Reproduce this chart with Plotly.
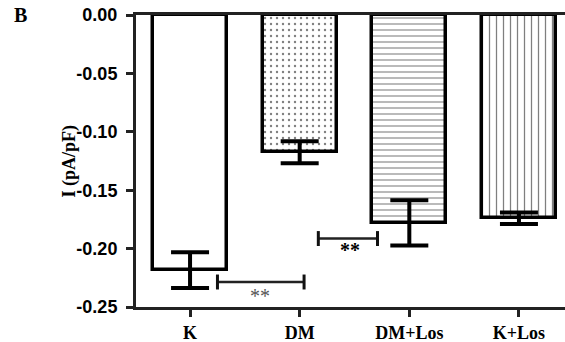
import plotly.graph_objects as go

categories = ["K", "DM", "DM+Los", "K+Los"]
means = [-0.2185, -0.1175, -0.178, -0.174]
errors = [0.0153, 0.0095, 0.0193, 0.005]
patterns = ["", ".", "-", "|"]
y_tickvals = [0.0, -0.05, -0.10, -0.15, -0.20, -0.25]
y_ticktext = ["0.00", "-0.05", "-0.10", "-0.15", "-0.20", "-0.25"]

# significance brackets: (x0, x1, y, label, label_x, label_y, color, bold)
brackets = [
    (0.25, 1.04, -0.2286, "**", 0.64, -0.2405, "#555555", False),
    (1.17, 1.71, -0.1914, "**", 1.46, -0.2010, "#000000", True),
]

fig = go.Figure()
for cat, m, e, p in zip(categories, means, errors, patterns):
    fig.add_trace(go.Bar(
        x=[cat], y=[m], width=0.675,
        marker=dict(
            color="white",
            line=dict(color="black", width=3.5),
            pattern=dict(shape=p, size=6 if p != "|" else 7,
                         solidity=0.12 if p == "." else 0.18,
                         fgcolor="black", bgcolor="white", fillmode="overlay"),
        ),
        error_y=dict(type="data", array=[e], symmetric=True,
                     color="black", thickness=4, width=19),
        showlegend=False,
    ))

tick_h = 0.0064
for x0, x1, y, lab, lx, ly, col, bold in brackets:
    fig.add_shape(type="line", xref="x", yref="y", x0=x0, x1=x1, y0=y, y1=y,
                  line=dict(color="#222222", width=2.5))
    for xx in (x0, x1):
        fig.add_shape(type="line", xref="x", yref="y", x0=xx, x1=xx,
                      y0=y - tick_h, y1=y + tick_h,
                      line=dict(color="#111111", width=3))
    fig.add_annotation(x=lx, y=ly, xref="x", yref="y", text=lab, showarrow=False,
                       font=dict(family="Liberation Serif", size=20, color=col,
                                 weight="bold" if bold else "normal"))

fig.add_annotation(x=(56 - 136) / 429, y=0.5, xref="paper", yref="paper",
                   text="<b>I (pA/pF)</b>", textangle=-90, showarrow=False,
                   font=dict(family="Liberation Serif", size=18, color="black"))
fig.add_annotation(x=(12 - 136) / 429, y=(342 - 35 - 15) / 292, xref="paper",
                   yref="paper", text="<b>B</b>", showarrow=False,
                   xanchor="left", yanchor="middle",
                   font=dict(family="Liberation Serif", size=20, color="black"))

fig.update_layout(
    width=565, height=342,
    margin=dict(l=136, r=0, t=15, b=35),
    plot_bgcolor="white", paper_bgcolor="white",
    bargap=0,
    xaxis=dict(
        type="category", range=[-0.493, 3.42],
        tickvals=categories,
        ticktext=["<b>" + c + "</b>" for c in categories],
        showline=True, linecolor="#222222", linewidth=3, mirror=True,
        ticks="outside", ticklen=7, tickwidth=3, tickcolor="#222222",
        tickfont=dict(family="Liberation Serif", size=18, color="black"),
        showgrid=False, zeroline=False,
    ),
    yaxis=dict(
        range=[-0.25, 0.0],
        tickvals=y_tickvals,
        ticktext=["<b>" + t + "</b>" for t in y_ticktext],
        showline=True, linecolor="#222222", linewidth=3,
        ticks="outside", ticklen=7, tickwidth=3, tickcolor="#222222",
        tickfont=dict(family="Liberation Sans", size=18, color="black"),
        ticklabelstandoff=5,
        showgrid=False, zeroline=False,
    ),
)

fig.write_html("out.html")
